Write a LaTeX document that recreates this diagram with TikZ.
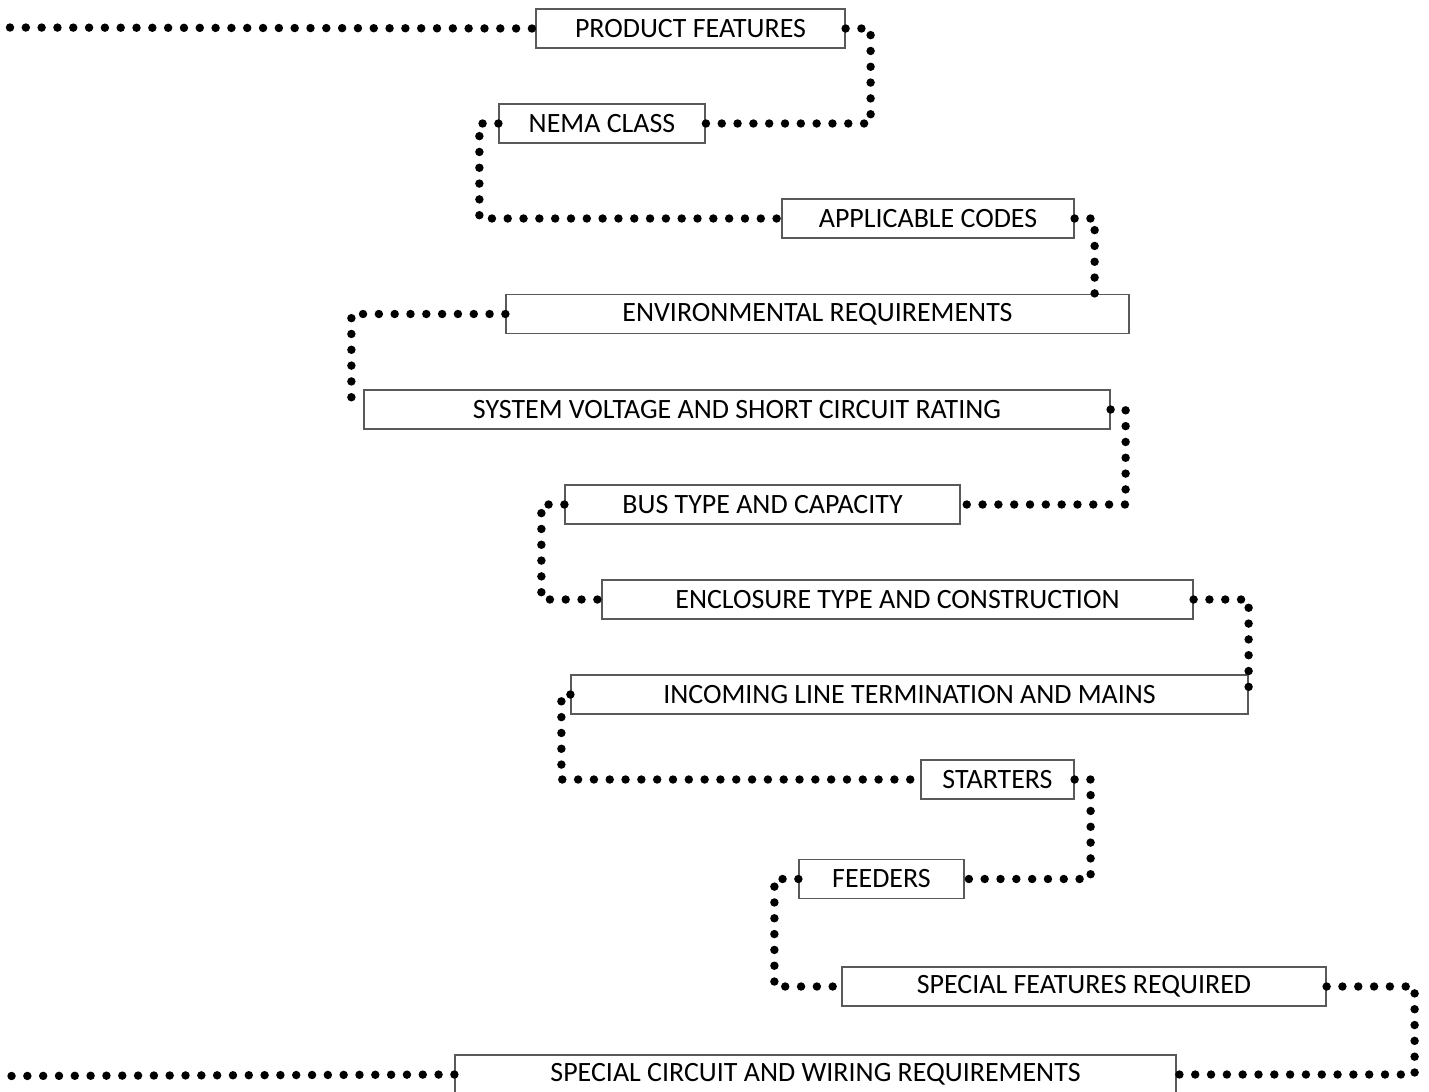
\documentclass[tikz,border=0pt]{standalone}
\usepackage{fontspec}
\setmainfont{Carlito}
\begin{document}
\begin{tikzpicture}[box/.style={draw=black!65, line width=0.7pt, minimum height=0.78cm, inner sep=0pt, font=\fontsize{15.9}{18}\selectfont},
dotline/.style={line width=4.8pt, line cap=round, dash pattern=on 0pt off 9pt}]
\useasboundingbox (0,0) rectangle (28.58,-21.82);
\node[box, minimum width=6.18cm] (pf) at (13.81,-0.57) {PRODUCT FEATURES};
\node[box, minimum width=4.12cm] (nema) at (12.04,-2.47) {NEMA CLASS};
\node[box, minimum width=5.84cm] (codes) at (18.56,-4.37) {APPLICABLE CODES};
\node[box, minimum width=12.46cm] (env) at (16.35,-6.28) {ENVIRONMENTAL REQUIREMENTS};
\node[box, minimum width=14.92cm] (sysv) at (14.74,-8.19) {SYSTEM VOLTAGE AND SHORT CIRCUIT RATING};
\node[box, minimum width=7.9cm] (bus) at (15.25,-10.09) {BUS TYPE AND CAPACITY};
\node[box, minimum width=11.82cm] (encl) at (17.95,-11.99) {ENCLOSURE TYPE AND CONSTRUCTION};
\node[box, minimum width=13.54cm] (inc) at (18.19,-13.89) {INCOMING LINE TERMINATION AND MAINS};
\node[box, minimum width=3.06cm] (start) at (19.95,-15.59) {STARTERS};
\node[box, minimum width=3.3cm] (feed) at (17.63,-17.58) {FEEDERS};
\node[box, minimum width=9.68cm] (sfr) at (21.68,-19.73) {SPECIAL FEATURES REQUIRED};
\node[box, minimum width=14.42cm] (scw) at (16.31,-21.49) {SPECIAL CIRCUIT AND WIRING REQUIREMENTS};
\coordinate (in) at (0.2,-0.55);
\coordinate (out) at (0.2,-21.52);
\draw[dotline] (in) -- (pf.west);
\draw[dotline] (pf.east) -- ++(0.5,0) |- (nema.east);
\draw[dotline] (nema.west) -- ++(-0.38,0) |- (codes.west);
\draw[dotline] (codes.east) -- ++(0.4,0) coordinate (k1) -- (k1 |- env.north);
\draw[dotline] (env.west) -- ++(-3.08,0) coordinate (k2) -- (k2 |- sysv.west);
\draw[dotline] (sysv.east) -- ++(0.3,0) |- (bus.east);
\draw[dotline] (bus.west) -- ++(-0.46,0) |- (encl.west);
\draw[dotline] (encl.east) -| (inc.east);
\draw[dotline] (inc.west) -- ++(-0.18,0) |- (start.west);
\draw[dotline] (start.east) -- ++(0.32,0) |- (feed.east);
\draw[dotline] (feed.west) -- ++(-0.48,0) |- (sfr.west);
\draw[dotline] (sfr.east) -- ++(1.76,0) |- (scw.east);
\draw[dotline] (scw.west) -- (out);
\end{tikzpicture}
\end{document}
